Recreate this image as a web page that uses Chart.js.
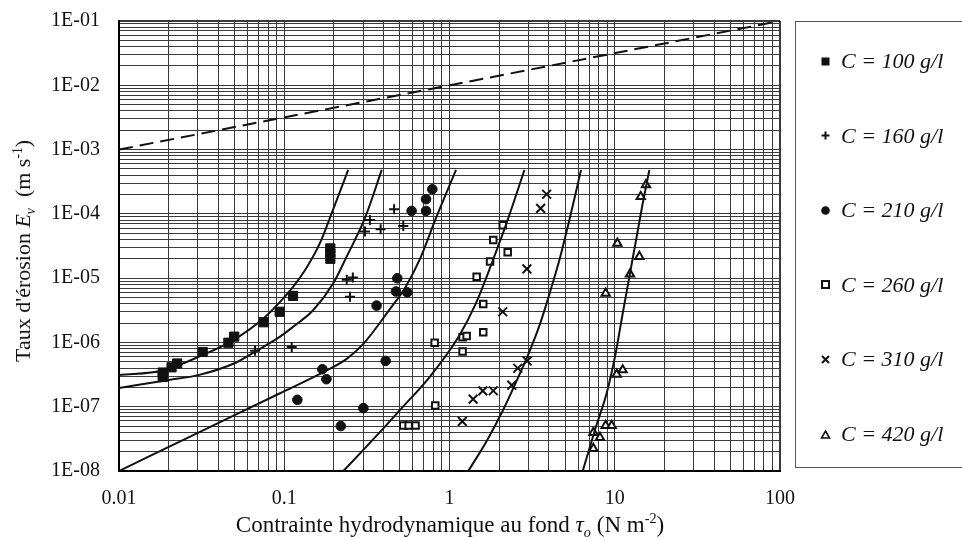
<!DOCTYPE html>
<html>
<head>
<meta charset="utf-8">
<script src="https://cdn.jsdelivr.net/npm/chart.js@4.4.1/dist/chart.umd.min.js"></script>
<style>
    body { margin: 0; background: #fff; }
    #wrap {
        position: relative;
        width: 962px;
        height: 540px;
        overflow: hidden;
        font-family: "Liberation Serif", "Times New Roman", serif;
        color: #111;
    }
    #chart { position: absolute; left: 0; top: 0; }
    .axis-title { position: absolute; white-space: nowrap; line-height: 1; }
    #xTitle { left: 450px; top: 524px; transform: translate(-50%, -50%); font-size: 23px; }
    #yTitle { left: 23px; top: 251px; transform: translate(-50%, -50%) rotate(-90deg); font-size: 22px; }
    .axis-title sub, .axis-title sup { font-size: 0.62em; line-height: 0; }
    #legend {
        position: absolute;
        left: 795px;
        top: 21px;
        width: 190px;
        height: 447px;
        border: 1px solid #555;
        box-sizing: border-box;
    }
    .leg-item {
        position: absolute;
        left: 24px;
        display: flex;
        align-items: center;
        font-size: 22px;
        font-style: italic;
        white-space: nowrap;
        line-height: 1;
    }
    .leg-item svg { margin-right: 10px; }
</style>
</head>
<body>
<div id="wrap">
    <canvas id="chart" width="962" height="540"></canvas>
    <div id="yTitle" class="axis-title">Taux d'érosion <i>E<sub>v</sub></i>&nbsp; (m s<sup>-1</sup>)</div>
    <div id="xTitle" class="axis-title">Contrainte hydrodynamique au fond <i>τ<sub>o</sub></i> (N m<sup>-2</sup>)</div>
    <div id="legend"></div>
</div>

<script>
// ===============================
// 1. DONNÉES
// ===============================

const seriesLabels = ['C = 100 g/l', 'C = 160 g/l', 'C = 210 g/l', 'C = 260 g/l', 'C = 310 g/l', 'C = 420 g/l'];

const xTickValues = [0.01, 0.1, 1, 10, 100];
const xTickLabels = ['0.01', '0.1', '1', '10', '100'];
const yTickValues = [1e-8, 1e-7, 1e-6, 1e-5, 1e-4, 1e-3, 1e-2, 1e-1];
const yTickLabels = ['1E-08', '1E-07', '1E-06', '1E-05', '1E-04', '1E-03', '1E-02', '1E-01'];

// mesures (tau en N m-2, E en m s-1)
const tau100 = [0.0184, 0.0184, 0.0208, 0.0225, 0.0321, 0.0459, 0.0498, 0.0751, 0.0939, 0.113, 0.19, 0.19, 0.19];
const e100   = [2.9e-7, 3.4e-7, 4.1e-7, 4.7e-7, 7.1e-7, 9.9e-7, 1.23e-6, 2.06e-6, 3.0e-6, 5.3e-6, 2.9e-5, 2.4e-5, 2.0e-5];

const tau160 = [0.0666, 0.111, 0.239, 0.260, 0.250, 0.308, 0.330, 0.383, 0.462, 0.525];
const e160   = [7.4e-7, 8.5e-7, 9.4e-6, 1.02e-5, 5.15e-6, 5.3e-5, 8.0e-5, 5.75e-5, 1.18e-4, 6.5e-5];

const tau210 = [0.120, 0.170, 0.180, 0.220, 0.301, 0.362, 0.411, 0.474, 0.483, 0.555, 0.590, 0.721, 0.721, 0.787];
const e210   = [1.28e-7, 3.83e-7, 2.68e-7, 5.0e-8, 9.5e-8, 3.74e-6, 5.15e-7, 6.2e-6, 9.95e-6, 6.0e-6, 1.11e-4, 1.11e-4, 1.69e-4, 2.41e-4];

const tau260 = [0.525, 0.566, 0.623, 0.820, 0.813, 1.20, 1.20, 1.27, 1.60, 1.60, 1.46, 1.76, 2.25, 1.84, 2.10];
const e260   = [5.1e-8, 5.1e-8, 5.1e-8, 1.04e-7, 9.9e-7, 7.2e-7, 1.2e-6, 1.26e-6, 1.44e-6, 3.97e-6, 1.05e-5, 1.81e-5, 2.53e-5, 3.93e-5, 6.65e-5];

const tau310 = [1.195, 1.39, 1.59, 1.84, 2.38, 2.59, 2.95, 2.10, 2.94, 3.56, 3.87];
const e310   = [5.9e-8, 1.31e-7, 1.76e-7, 1.77e-7, 2.16e-7, 3.97e-7, 5.15e-7, 3.0e-6, 1.39e-5, 1.22e-4, 2.02e-4];

const tau420 = [7.42, 7.42, 8.14, 8.81, 9.58, 10.28, 11.17, 8.81, 10.37, 12.37, 14.09, 14.36, 15.45];
const e420   = [2.23e-8, 3.95e-8, 3.31e-8, 5.08e-8, 5.08e-8, 3.2e-7, 3.73e-7, 5.82e-6, 3.49e-5, 1.16e-5, 2.16e-5, 1.85e-4, 2.82e-4];

// courbes d'ajustement
const fitTau100 = [0.01, 0.0185, 0.0322, 0.0483, 0.0754, 0.0943, 0.113, 0.1373, 0.1646, 0.1972, 0.2437];
const fitE100   = [3.12e-7, 3.67e-7, 6.39e-7, 1.055e-6, 2.4e-6, 4.27e-6, 7.3e-6, 1.49e-5, 3.53e-5, 1.15e-4, 4.82e-4];

const fitTau160 = [0.01, 0.02, 0.0302, 0.05, 0.0666, 0.0943, 0.1134, 0.15, 0.198, 0.2386, 0.3076, 0.389];
const fitE160   = [1.96e-7, 2.61e-7, 3.1e-7, 4.74e-7, 7.2e-7, 1.23e-6, 1.76e-6, 3.2e-6, 8.3e-6, 2.16e-5, 8.55e-5, 4.82e-4];

const fitTau210 = [0.01, 0.0309, 0.0943, 0.1645, 0.2387, 0.301, 0.4365, 0.538, 0.663, 0.8287, 1.095];
const fitE210   = [1.0e-8, 4.06e-8, 1.62e-7, 3.24e-7, 5.54e-7, 9.48e-7, 3.32e-6, 7.05e-6, 1.99e-5, 8.63e-5, 4.82e-4];

const fitTau260 = [0.228, 0.301, 0.407, 0.514, 0.762, 1.13, 1.44, 1.816, 2.19, 2.55, 2.84];
const fitE260   = [1.0e-8, 2.13e-8, 4.9e-8, 9.5e-8, 2.94e-7, 1.2e-6, 3.97e-6, 1.8e-5, 6.6e-5, 2.09e-4, 4.82e-4];

const fitTau310 = [1.30, 1.68, 2.11, 2.53, 2.99, 3.53, 4.06, 4.66, 5.21, 5.75, 6.25];
const fitE310   = [1.0e-8, 2.94e-8, 8.9e-8, 2.43e-7, 6.4e-7, 1.94e-6, 6.1e-6, 2.06e-5, 6.49e-5, 1.9e-4, 4.82e-4];

const fitTau420 = [6.40, 7.59, 8.93, 10.03, 11.27, 12.37, 13.57, 14.77, 16.2];
const fitE420   = [1.0e-8, 4.35e-8, 1.62e-7, 6.0e-7, 3.2e-6, 1.19e-5, 4.4e-5, 1.46e-4, 4.82e-4];

// droite en tirets
const refTau = [0.01, 100];
const refE   = [1e-3, 1e-1];


// ===============================
// 2. OUTILS
// ===============================

const pts = (xs, ys) => xs.map((x, i) => ({ x: x, y: ys[i] }));

const sameValue = (a, b) => Math.abs(Math.log10(a) - Math.log10(b)) < 1e-6;

// toutes les valeurs 1..9 x 10^k pour la grille logarithmique
function logGrid(min, max) {
    const vals = [];
    const e0 = Math.round(Math.log10(min));
    const e1 = Math.round(Math.log10(max));
    for (let e = e0; e < e1; e++) {
        for (let k = 1; k <= 9; k++) {
            vals.push(Number((k * Math.pow(10, e)).toPrecision(6)));
        }
    }
    vals.push(max);
    return vals;
}

function labelFor(values, labels) {
    return (value) => {
        const i = values.findIndex(v => sameValue(v, value));
        return i >= 0 ? labels[i] : '';
    };
}

const INK = '#111';
const serif = '"Liberation Serif", "Times New Roman", serif';

const markerStyles = [
    { pointStyle: 'rect',     pointRadius: 6.5, backgroundColor: INK,    borderWidth: 1 },
    { pointStyle: 'cross',    pointRadius: 5,   backgroundColor: INK,    borderWidth: 2 },
    { pointStyle: 'circle',   pointRadius: 4.8, backgroundColor: INK,    borderWidth: 1 },
    { pointStyle: 'rect',     pointRadius: 4.6, backgroundColor: '#fff', borderWidth: 2 },
    { pointStyle: 'crossRot', pointRadius: 6.2, backgroundColor: INK,    borderWidth: 2 },
    { pointStyle: 'triangle', pointRadius: 4.8, backgroundColor: '#fff', borderWidth: 2 }
];

const measured = [
    pts(tau100, e100), pts(tau160, e160), pts(tau210, e210),
    pts(tau260, e260), pts(tau310, e310), pts(tau420, e420)
];

const fits = [
    pts(fitTau100, fitE100), pts(fitTau160, fitE160), pts(fitTau210, fitE210),
    pts(fitTau260, fitE260), pts(fitTau310, fitE310), pts(fitTau420, fitE420)
];


// ===============================
// 3. JEUX DE DONNÉES
// ===============================

const datasets = [];

fits.forEach(data => {
    datasets.push({
        data: data,
        showLine: true,
        pointRadius: 0,
        borderColor: INK,
        borderWidth: 2,
        cubicInterpolationMode: 'monotone'
    });
});

datasets.push({
    data: pts(refTau, refE),
    showLine: true,
    pointRadius: 0,
    borderColor: INK,
    borderWidth: 2,
    borderDash: [14, 7]
});

measured.forEach((data, i) => {
    datasets.push(Object.assign({
        label: seriesLabels[i],
        data: data,
        showLine: false,
        borderColor: INK
    }, markerStyles[i]));
});


// ===============================
// 4. GRAPHIQUE (Chart.js)
// ===============================

const xMin = xTickValues[0], xMax = xTickValues[xTickValues.length - 1];
const yMin = yTickValues[0], yMax = yTickValues[yTickValues.length - 1];

const edgeWidth = (lo, hi) => (c) =>
    (c.tick && (sameValue(c.tick.value, lo) || sameValue(c.tick.value, hi))) ? 2 : 1;

new Chart(document.getElementById('chart').getContext('2d'), {
    type: 'scatter',
    data: { datasets: datasets },
    options: {
        responsive: false,
        animation: false,
        devicePixelRatio: 1,
        layout: { padding: { top: 21, right: 182, bottom: 0, left: 0 } },
        plugins: {
            legend: { display: false },
            tooltip: { enabled: false }
        },
        scales: {
            x: {
                type: 'logarithmic',
                min: xMin,
                max: xMax,
                afterBuildTicks: (scale) => {
                    scale.ticks = logGrid(xMin, xMax).map(v => ({ value: v }));
                },
                afterFit: (scale) => { scale.height = 69; },
                grid: { color: '#3a3a3a', lineWidth: edgeWidth(xMin, xMax), drawTicks: false },
                border: { color: '#000', width: 2 },
                ticks: {
                    autoSkip: false,
                    maxRotation: 0,
                    minRotation: 0,
                    padding: 16,
                    color: INK,
                    font: { family: serif, size: 20 },
                    callback: labelFor(xTickValues, xTickLabels)
                }
            },
            y: {
                type: 'logarithmic',
                min: yMin,
                max: yMax,
                afterBuildTicks: (scale) => {
                    scale.ticks = logGrid(yMin, yMax).map(v => ({ value: v }));
                },
                afterFit: (scale) => {
                    // largeur fixe, sans marge auto en haut (padding des étiquettes)
                    scale.width = 119;
                    scale.paddingTop = 0;
                    scale.paddingBottom = 0;
                },
                grid: { color: '#3a3a3a', lineWidth: edgeWidth(yMin, yMax), drawTicks: false },
                border: { color: '#000', width: 2 },
                ticks: {
                    autoSkip: false,
                    padding: 19,
                    color: INK,
                    font: { family: serif, size: 20 },
                    callback: labelFor(yTickValues, yTickLabels)
                }
            }
        }
    }
});


// ===============================
// 5. LÉGENDE
// ===============================

const markerSvg = [
    '<rect x="1.5" y="1.5" width="8" height="8" fill="#111"/>',
    '<path d="M5.5 1.5V9.5M1.5 5.5H9.5" stroke="#111" stroke-width="2"/>',
    '<circle cx="5.5" cy="5.5" r="4.3" fill="#111"/>',
    '<rect x="2" y="2" width="7" height="7" fill="none" stroke="#111" stroke-width="2"/>',
    '<path d="M2 2L9 9M9 2L2 9" stroke="#111" stroke-width="2"/>',
    '<path d="M5.5 2L9.5 9H1.5Z" fill="none" stroke="#111" stroke-width="1.6"/>'
];

const legend = document.getElementById('legend');
seriesLabels.forEach((label, i) => {
    const item = document.createElement('div');
    item.className = 'leg-item';
    item.style.top = (39 + i * 74.6 - 11) + 'px';
    item.innerHTML = '<svg width="11" height="11" viewBox="0 0 11 11">' + markerSvg[i] + '</svg>' +
        '<span>' + label + '</span>';
    legend.appendChild(item);
});
</script>
</body>
</html>
